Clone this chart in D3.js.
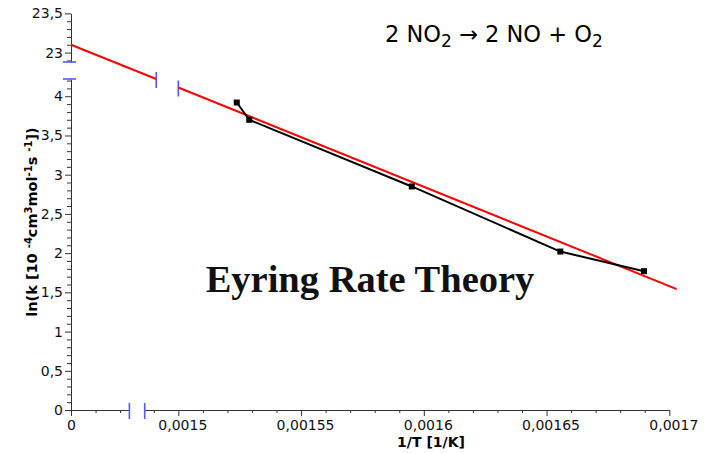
<!DOCTYPE html>
<html>
<head>
<meta charset="utf-8">
<script src="https://cdn.jsdelivr.net/npm/d3@7"></script>
<style>
  html, body { margin: 0; padding: 0; background: #fff; }
  svg { display: block; }
</style>
</head>
<body>
<svg id="chart" width="715" height="453"></svg>
<script>
// Measurements: reciprocal temperature (1/K) and ln k
const invT = [0.0015238, 0.0015289, 0.0015951, 0.0016556, 0.0016897];
const lnK  = [3.92, 3.70, 2.85, 2.02, 1.77];

// Linear fit ln k = intercept + slope * (1/T)
const fitIntercept = 23.1;
const fitSlope = -12659;
// Fit drawn from 1/T = 0 up to the break, then resumed after it
const fitUpperX = [0, 0.001491];
const fitLowerX = [0.0015, 0.001703];

// Broken axes: each axis shows two value ranges
const xSegments = [[0, 0.0000238], [0.0014863, 0.0017]];
const ySegments = [[0, 4.22], [22.88, 23.5]];
const xStep = 0.00001, xMajorEvery = 5;
const yStep = 0.1,     yMajorEvery = 5;

const title = "Eyring Rate Theory";
const xTitle = "1/T [1/K]";

const svg = d3.select("#chart");

// Pixel positions of the segment ends
const xRanges = [[71, 129.4], [144.7, 669.3]];
const yRanges = [[410, 79], [62, 13.4]];

// Piecewise scales used for marks
const x = d3.scaleLinear()
  .domain([xSegments[0][0], xSegments[0][1], xSegments[1][0], xSegments[1][1]])
  .range([xRanges[0][0], xRanges[0][1], xRanges[1][0], xRanges[1][1]]);
const y = d3.scaleLinear()
  .domain([ySegments[0][0], ySegments[0][1], ySegments[1][0], ySegments[1][1]])
  .range([yRanges[0][0], yRanges[0][1], yRanges[1][0], yRanges[1][1]]);

const fmt = v => (+v.toFixed(7)).toString().replace(".", ",");

function ticksFor(seg, step, every) {
  const lo = Math.ceil(seg[0] / step - 1e-6), hi = Math.floor(seg[1] / step + 1e-6);
  const minor = [], major = [];
  for (let k = lo; k <= hi; k++) {
    const v = +(k * step).toFixed(8);
    (k % every === 0 ? major : minor).push(v);
  }
  return { minor, major };
}

const axisColor = "#333";
const axesG = svg.append("g");

// X axis segments
xSegments.forEach((seg, i) => {
  const s = d3.scaleLinear().domain(seg).range(xRanges[i]);
  const t = ticksFor(seg, xStep, xMajorEvery);
  axesG.append("g").attr("transform", `translate(0,${yRanges[0][0]})`)
    .call(d3.axisBottom(s).tickValues(t.minor).tickSize(3).tickSizeOuter(0).tickFormat(""));
  const gMajor = axesG.append("g").attr("transform", `translate(0,${yRanges[0][0]})`)
    .call(d3.axisBottom(s).tickValues(t.major).tickSize(6).tickSizeOuter(0).tickFormat(fmt).tickPadding(4));
  gMajor.select(".domain").remove();
  gMajor.selectAll("text").attr("dx", i === 0 ? 0 : 4);
});

// Y axis segments
ySegments.forEach((seg, i) => {
  const s = d3.scaleLinear().domain(seg).range(yRanges[i]);
  const t = ticksFor(seg, yStep, yMajorEvery);
  axesG.append("g").attr("transform", `translate(${xRanges[0][0]},0)`)
    .call(d3.axisLeft(s).tickValues(t.minor).tickSize(4).tickSizeOuter(0).tickFormat(""));
  const gMajor = axesG.append("g").attr("transform", `translate(${xRanges[0][0]},0)`)
    .call(d3.axisLeft(s).tickValues(t.major).tickSize(6).tickSizeOuter(0).tickFormat(fmt).tickPadding(2));
  gMajor.select(".domain").remove();
});

axesG.selectAll("path.domain").attr("stroke", axisColor);
axesG.selectAll(".tick line").attr("stroke", axisColor);
axesG.selectAll(".tick text")
  .attr("fill", "#111")
  .style("font-family", "'DejaVu Sans', sans-serif")
  .style("font-size", "14px");

// Break markers
const breakColor = "#5555ff";
const brk = svg.append("g").attr("stroke", breakColor).attr("stroke-width", 1.6);
[xSegments[0][1], xSegments[1][0]].forEach(v => {
  brk.append("line").attr("x1", x(v)).attr("x2", x(v))
    .attr("y1", yRanges[0][0] - 7).attr("y2", yRanges[0][0] + 9);
});
[ySegments[0][1], ySegments[1][0]].forEach(v => {
  brk.append("line").attr("y1", y(v)).attr("y2", y(v))
    .attr("x1", xRanges[0][0] - 8).attr("x2", xRanges[0][0] + 5);
});

// Fit line (red), broken where the axes are broken
const fit = v => fitIntercept + fitSlope * v;
const lineGen = d3.line().x(d => x(d)).y(d => y(fit(d)));
[fitUpperX, fitLowerX].forEach(seg => {
  svg.append("path").attr("d", lineGen(seg))
    .attr("fill", "none").attr("stroke", "#ff0000").attr("stroke-width", 2);
});
brk.append("line")
  .attr("x1", x(fitUpperX[1])).attr("x2", x(fitUpperX[1]))
  .attr("y1", y(fit(fitUpperX[1])) - 7).attr("y2", y(fit(fitUpperX[1])) + 9);
brk.append("line")
  .attr("x1", x(fitLowerX[0])).attr("x2", x(fitLowerX[0]))
  .attr("y1", y(fit(fitLowerX[0])) - 7).attr("y2", y(fit(fitLowerX[0])) + 9);

// Measured series (black)
const pts = invT.map((v, i) => [v, lnK[i]]);
svg.append("path")
  .attr("d", d3.line().x(d => x(d[0])).y(d => y(d[1]))(pts))
  .attr("fill", "none").attr("stroke", "#000").attr("stroke-width", 2);
svg.append("g").selectAll("rect").data(pts).join("rect")
  .attr("x", d => x(d[0]) - 3).attr("y", d => y(d[1]) - 3)
  .attr("width", 6).attr("height", 6).attr("fill", "#000");

// Reaction equation
const eq = svg.append("text")
  .attr("x", 385).attr("y", 42)
  .style("font-family", "'DejaVu Sans', sans-serif")
  .style("font-size", "22.5px").attr("fill", "#000");
const eqParts = [["2 NO", false], ["2", true], [" \u2192 2 NO + O", false], ["2", true]];
eqParts.forEach(([t, sub], i) => {
  const ts = eq.append("tspan").text(t);
  if (sub) ts.attr("dy", 5).style("font-size", "17px");
  else ts.attr("dy", i > 0 ? -5 : 0);
});

// Title
svg.append("text")
  .attr("x", 370).attr("y", 292)
  .attr("text-anchor", "middle")
  .style("font-family", "'Liberation Serif', 'Times New Roman', serif")
  .style("font-weight", "bold")
  .style("font-size", "38.5px")
  .attr("fill", "#111")
  .text(title);

// Axis titles
svg.append("text")
  .attr("x", 431).attr("y", 447)
  .attr("text-anchor", "middle")
  .style("font-family", "'DejaVu Sans', sans-serif")
  .style("font-weight", "bold").style("font-size", "14px")
  .text(xTitle);

const yt = svg.append("text")
  .attr("transform", "translate(37,222) rotate(-90)")
  .attr("text-anchor", "middle")
  .style("font-family", "'DejaVu Sans', sans-serif")
  .style("font-weight", "bold").style("font-size", "14.5px");
const ytParts = [["ln(k [10 ", false], ["-4", true], ["cm", false], ["3", true], ["mol", false],
                 ["-1", true], ["s ", false], ["-1", true], ["])", false]];
let prevSup = false;
ytParts.forEach(([t, sup]) => {
  const ts = yt.append("tspan").text(t);
  if (sup) { ts.attr("dy", prevSup ? 0 : -5).style("font-size", "10px"); }
  else { ts.attr("dy", prevSup ? 5 : 0); }
  prevSup = sup;
});
</script>
</body>
</html>
